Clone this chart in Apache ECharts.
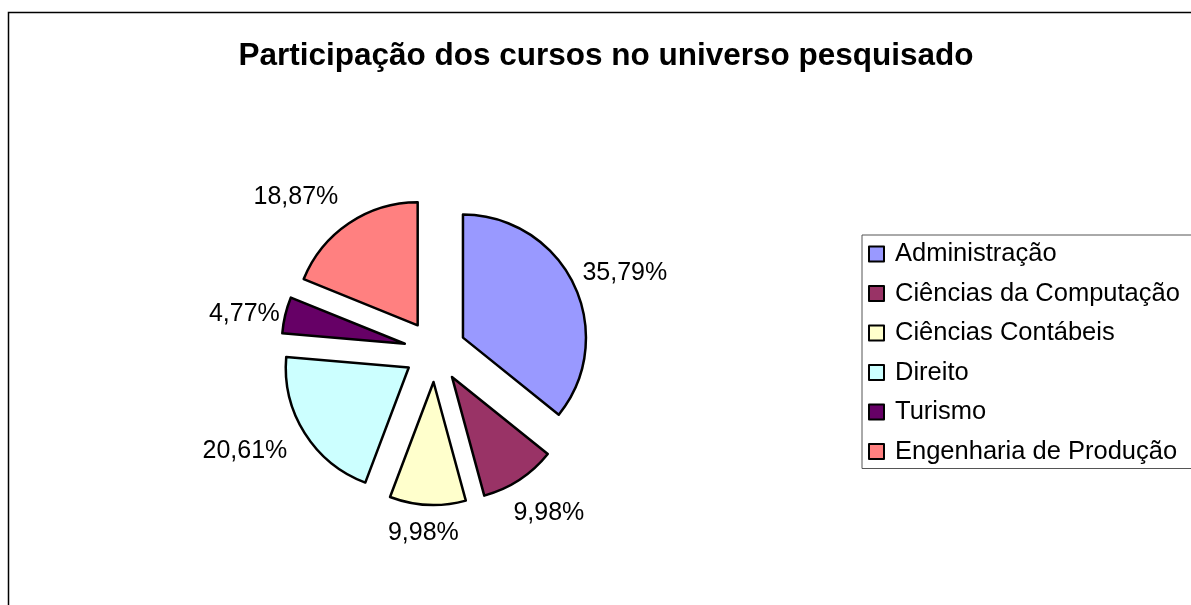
<!DOCTYPE html>
<html>
<head>
<meta charset="utf-8">
<title>Participação dos cursos</title>
<script src="https://cdn.jsdelivr.net/npm/echarts@6/dist/echarts.min.js"></script>
<style>
  html, body { margin: 0; padding: 0; background: #fff; }
  #chart { width: 1191px; height: 605px; }
</style>
</head>
<body>
<div id="chart"></div>
<script>
// dados do gráfico
var cursos = ['Administração', 'Ciências da Computação', 'Ciências Contábeis', 'Direito', 'Turismo', 'Engenharia de Produção'];
var percentuais = [35.79, 9.98, 9.98, 20.61, 4.77, 18.87];
var cores = ['#9999FF', '#993366', '#FFFFCC', '#CCFFFF', '#660066', '#FF8080'];
// layout dos rótulos: distância além da fatia e pequeno ajuste
var distRotulo = [52, 43, 26, 60, 40, 52];
var ajusteRotulo = [[4, 11], [6, -3], [-3, 2], [-9, -14], [-2, 8], [-24, 17]];

var chart = echarts.init(document.getElementById('chart'));

var dados = cursos.map(function (nome, i) {
  return {
    name: nome,
    value: percentuais[i],
    selected: true,
    itemStyle: { color: cores[i] },
    labelLine: { show: false, length: distRotulo[i], length2: 0 }
  };
});

var option = {
  animation: false,
  title: {
    text: 'Participação dos cursos no universo pesquisado',
    left: 601,
    top: 35,
    textAlign: 'center',
    textStyle: {
      fontFamily: 'Liberation Sans',
      fontWeight: 'bold',
      fontSize: 31.5,
      color: '#000'
    }
  },
  legend: {
    orient: 'vertical',
    left: 862,
    top: 235,
    padding: [6, 60, 4, 6],
    itemWidth: 15,
    itemHeight: 15,
    itemGap: 13.5,
    borderColor: '#555',
    borderWidth: 1,
    icon: 'rect',
    itemStyle: { borderColor: '#000', borderWidth: 2 },
    textStyle: {
      fontFamily: 'Liberation Sans',
      fontSize: 25.5,
      color: '#000',
      padding: [0, 0, 0, 6]
    },
    selectedMode: false,
    data: cursos
  },
  graphic: [{
    type: 'rect',
    shape: { x: 8.5, y: 12.5, width: 1300, height: 700 },
    style: { fill: 'none', stroke: '#000', lineWidth: 1.5 },
    silent: true
  }],
  series: [{
    type: 'pie',
    center: [435, 351],
    radius: 123,
    startAngle: 90,
    clockwise: true,
    selectedMode: 'multiple',
    selectedOffset: 31,
    avoidLabelOverlap: false,
    itemStyle: { borderColor: '#000', borderWidth: 2.5 },
    emphasis: { disabled: true },
    select: { itemStyle: { borderColor: '#000', borderWidth: 2.5 } },
    label: {
      show: true,
      position: 'outside',
      distanceToLabelLine: 0,
      fontFamily: 'Liberation Sans',
      fontSize: 25,
      color: '#000',
      formatter: function (p) {
        return p.value.toFixed(2).replace('.', ',') + '%';
      }
    },
    labelLayout: function (p) {
      return {
        align: 'center',
        verticalAlign: 'middle',
        dx: ajusteRotulo[p.dataIndex][0],
        dy: ajusteRotulo[p.dataIndex][1]
      };
    },
    data: dados
  }]
};

chart.setOption(option);
</script>
</body>
</html>
